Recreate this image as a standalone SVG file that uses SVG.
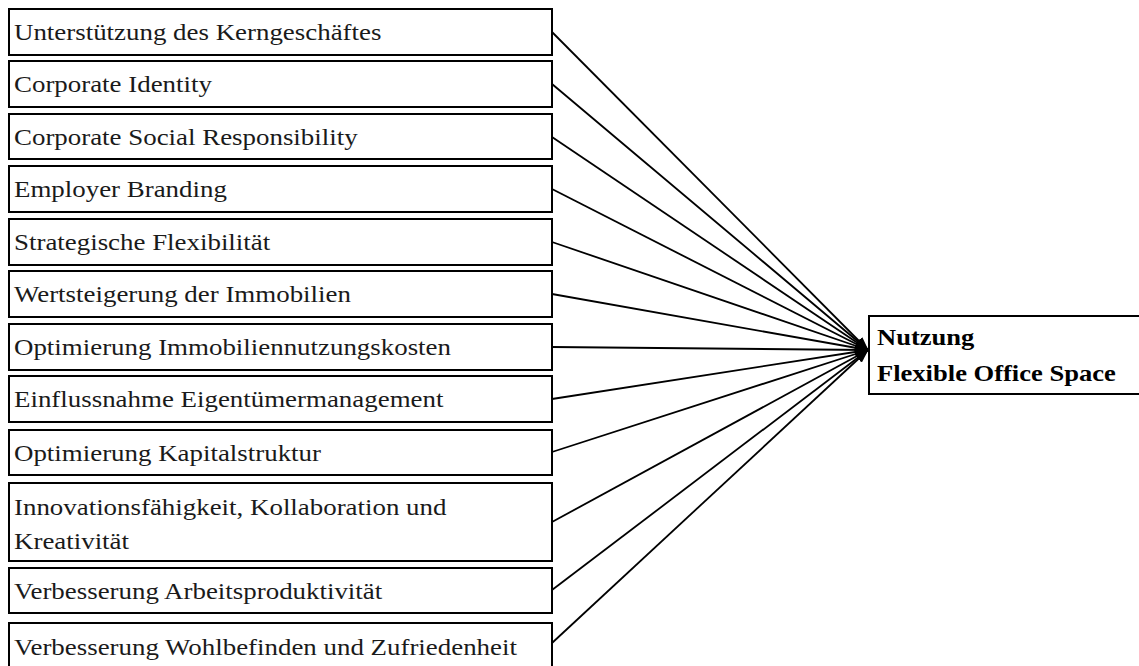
<svg xmlns="http://www.w3.org/2000/svg" width="1139" height="666" viewBox="0 0 1139 666">
  <style>
    .box { fill: #ffffff; stroke: #000000; stroke-width: 2; }
    .lbl { font-family: "Liberation Serif", "Times New Roman", serif; font-size: 23px; fill: #1a1a1a; }
    .tgt { font-family: "Liberation Serif", "Times New Roman", serif; font-size: 22.5px; font-weight: bold; fill: #000000; }
    .edge { fill: none; stroke: #000000; stroke-width: 1.8; marker-end: url(#arrow); }
  </style>
  <defs>
    <marker id="arrow" markerUnits="userSpaceOnUse" markerWidth="14" markerHeight="10" refX="13" refY="5" orient="auto">
      <path d="M0,0 L14,5 L0,10 Z" fill="#000000"/>
    </marker>
  </defs>
  <rect width="1139" height="666" fill="#ffffff"/>

  <!-- connectors from each factor to the target -->
  <g id="connectors">
    <line class="edge" x1="552" y1="32" x2="868" y2="350"/>
    <line class="edge" x1="552" y1="84" x2="868" y2="350"/>
    <line class="edge" x1="552" y1="137" x2="868" y2="350"/>
    <line class="edge" x1="552" y1="189" x2="868" y2="350"/>
    <line class="edge" x1="552" y1="242" x2="868" y2="350"/>
    <line class="edge" x1="552" y1="294" x2="868" y2="350"/>
    <line class="edge" x1="552" y1="347" x2="868" y2="350"/>
    <line class="edge" x1="552" y1="399" x2="868" y2="350"/>
    <line class="edge" x1="552" y1="452" x2="868" y2="350"/>
    <line class="edge" x1="552" y1="522" x2="868" y2="350"/>
    <line class="edge" x1="552" y1="590" x2="868" y2="350"/>
    <line class="edge" x1="552" y1="643" x2="868" y2="350"/>
  </g>

  <!-- labels are set slightly wide (horizontal scale 1.17) -->
  <g id="n1"><rect class="box" x="9" y="9" width="543" height="46"/><text class="lbl" transform="matrix(1.17 0 0 1 14 40)">Unterstützung des Kerngeschäftes</text></g>
  <g id="n2"><rect class="box" x="9" y="61" width="543" height="46"/><text class="lbl" transform="matrix(1.17 0 0 1 14 92)">Corporate Identity</text></g>
  <g id="n3"><rect class="box" x="9" y="114" width="543" height="45"/><text class="lbl" transform="matrix(1.17 0 0 1 14 145)">Corporate Social Responsibility</text></g>
  <g id="n4"><rect class="box" x="9" y="166" width="543" height="46"/><text class="lbl" transform="matrix(1.17 0 0 1 14 197)">Employer Branding</text></g>
  <g id="n5"><rect class="box" x="9" y="219" width="543" height="46"/><text class="lbl" transform="matrix(1.17 0 0 1 14 250)">Strategische Flexibilität</text></g>
  <g id="n6"><rect class="box" x="9" y="271" width="543" height="46"/><text class="lbl" transform="matrix(1.17 0 0 1 14 302)">Wertsteigerung der Immobilien</text></g>
  <g id="n7"><rect class="box" x="9" y="324" width="543" height="46"/><text class="lbl" transform="matrix(1.17 0 0 1 14 355)">Optimierung Immobiliennutzungskosten</text></g>
  <g id="n8"><rect class="box" x="9" y="376" width="543" height="46"/><text class="lbl" transform="matrix(1.17 0 0 1 14 407)">Einflussnahme Eigentümermanagement</text></g>
  <g id="n9"><rect class="box" x="9" y="430" width="543" height="45"/><text class="lbl" transform="matrix(1.17 0 0 1 14 461)">Optimierung Kapitalstruktur</text></g>
  <g id="n10"><rect class="box" x="9" y="483" width="543" height="78"/><text class="lbl" transform="matrix(1.17 0 0 1 14 515)">Innovationsfähigkeit, Kollaboration und</text><text class="lbl" transform="matrix(1.17 0 0 1 14 549)">Kreativität</text></g>
  <g id="n11"><rect class="box" x="9" y="568" width="543" height="45"/><text class="lbl" transform="matrix(1.17 0 0 1 14 599)">Verbesserung Arbeitsproduktivität</text></g>
  <g id="n12"><rect class="box" x="9" y="623" width="543" height="46"/><text class="lbl" transform="matrix(1.17 0 0 1 14 655)">Verbesserung Wohlbefinden und Zufriedenheit</text></g>

  <g id="target">
    <rect class="box" x="869" y="316" width="272" height="78"/>
    <text class="tgt" transform="matrix(1.18 0 0 1 877 345)">Nutzung</text>
    <text class="tgt" transform="matrix(1.18 0 0 1 877 381)">Flexible Office Space</text>
  </g>
</svg>
